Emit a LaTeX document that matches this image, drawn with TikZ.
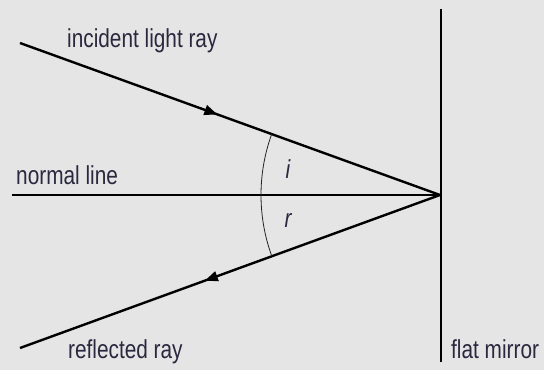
\documentclass[tikz,border=0pt]{standalone}
\usepackage{fontspec}
\setmainfont{Liberation Sans}[FakeStretch=0.8]
\usetikzlibrary{arrows.meta,decorations.markings}
\definecolor{bg}{RGB}{229,229,229}
\definecolor{txt}{RGB}{42,40,62}
\definecolor{arcc}{RGB}{35,35,35}
\begin{document}
\begin{tikzpicture}[x=1pt,y=1pt,
  ray/.style={line width=2.4pt,black},
  lbl/.style={anchor=base west,inner sep=0pt,text=txt,font=\fontsize{26}{30}\selectfont},
  ang/.style={anchor=base,inner sep=0pt,text=txt,font=\fontsize{26}{30}\selectfont\itshape},
  midarrow/.style={postaction={decorate},decoration={markings,
     mark=at position #1 with {\arrow{Triangle[length=13pt,width=10pt]}}}}]
\fill[bg] (0,0) rectangle (544,370);
\useasboundingbox (0,0) rectangle (544,370);
% points
\coordinate (A) at (20,327);
\coordinate (O) at (440,175);
\coordinate (B) at (20,22);
\coordinate (N) at (12,175);
\coordinate (M1) at (441,361);
\coordinate (M2) at (441,8);
% mirror
\draw[line width=1.5pt,black] (M1) -- (M2);
% normal
\draw[ray] (N) -- (O);
% rays
\draw[ray,midarrow=0.47] (A) -- (O);
\draw[ray,midarrow=0.56] (O) -- (B);
% angle arc
\draw[arcc,line width=0.8pt] (O) ++(160.1:179) arc[start angle=160.1,end angle=199.9,radius=179];
% labels
\node[lbl] (tinc) at (67,322) {incident light ray};
\node[lbl] (tnorm) at (16,185) {normal line};
\node[lbl] (tref) at (68,12) {reflected ray};
\node[lbl] (tmir) at (451,12) {flat mirror};
\node[ang] (ti) at (288,191) {i};
\node[ang] (tr) at (288,142) {r};
\end{tikzpicture}
\end{document}
